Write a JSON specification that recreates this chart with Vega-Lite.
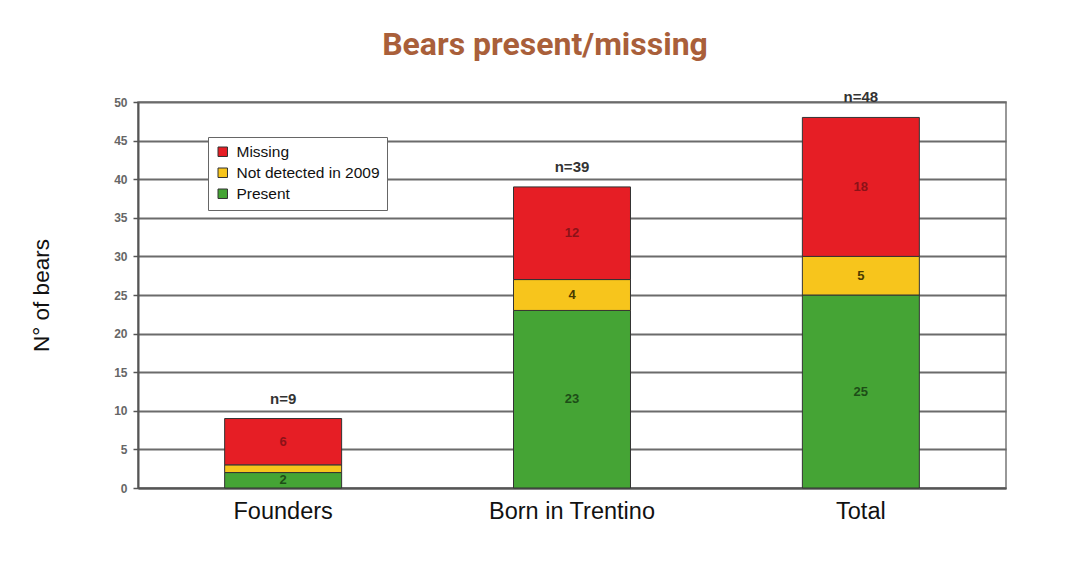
{
  "$schema": "https://vega.github.io/schema/vega-lite/v6.json",
  "width": 868,
  "height": 386,
  "autosize": {"type": "none"},
  "padding": {"left": 138, "top": 102, "right": 84, "bottom": 77},
  "background": "white",
  "title": {
    "text": "Bears present/missing",
    "font": "Roboto",
    "fontSize": 32,
    "fontWeight": "bold",
    "color": "#a95f3a",
    "anchor": "middle",
    "dx": -27,
    "offset": 28
  },
  "datasets": {
    "bears": [
      {"group": "Founders", "status": "Present", "value": 2, "order": 1},
      {"group": "Founders", "status": "Not detected in 2009", "value": 1, "order": 2},
      {"group": "Founders", "status": "Missing", "value": 6, "order": 3},
      {"group": "Born in Trentino", "status": "Present", "value": 23, "order": 1},
      {"group": "Born in Trentino", "status": "Not detected in 2009", "value": 4, "order": 2},
      {"group": "Born in Trentino", "status": "Missing", "value": 12, "order": 3},
      {"group": "Total", "status": "Present", "value": 25, "order": 1},
      {"group": "Total", "status": "Not detected in 2009", "value": 5, "order": 2},
      {"group": "Total", "status": "Missing", "value": 18, "order": 3}
    ],
    "totals": [
      {"group": "Founders", "total": 9, "label": "n=9"},
      {"group": "Born in Trentino", "total": 39, "label": "n=39"},
      {"group": "Total", "total": 48, "label": "n=48"}
    ]
  },
  "config": {
    "view": {"stroke": "#777", "strokeWidth": 1.5},
    "font": "Liberation Sans"
  },
  "encoding": {
    "x": {
      "field": "group",
      "type": "nominal",
      "sort": ["Founders", "Born in Trentino", "Total"],
      "scale": {"paddingInner": 0.595, "paddingOuter": 0.3},
      "axis": {
        "title": null,
        "labelAngle": 0,
        "labelFont": "Liberation Sans",
        "labelFontSize": 23.5,
        "labelColor": "#111",
        "labelPadding": 11,
        "ticks": false,
        "domainColor": "#555",
        "domainWidth": 2
      }
    }
  },
  "layer": [
    {
      "data": {"name": "bears"},
      "transform": [
        {"stack": "value", "groupby": ["group"], "sort": [{"field": "order"}], "as": ["v0", "v1"]}
      ],
      "mark": {"type": "bar", "stroke": "#333", "strokeWidth": 1},
      "encoding": {
        "y": {
          "field": "v1",
          "type": "quantitative",
          "scale": {"domain": [0, 50], "nice": false},
          "axis": {
            "title": "N° of bears",
            "titleFont": "Liberation Sans",
            "titleFontSize": 22.5,
            "titleFontWeight": "normal",
            "titleColor": "#111",
            "titlePadding": 60,
            "tickCount": 10,
            "labelOverlap": false,
            "grid": true,
            "labelFont": "Liberation Sans",
            "labelFontSize": 12,
            "labelFontWeight": "bold",
            "labelColor": "#666",
            "labelPadding": 6,
            "tickSize": 5,
            "tickColor": "#555",
            "tickWidth": 1.5,
            "gridColor": "#6b6b6b",
            "gridWidth": 2,
            "domainColor": "#555",
            "domainWidth": 2
          }
        },
        "y2": {"field": "v0"},
        "color": {
          "field": "status",
          "type": "nominal",
          "scale": {
            "domain": ["Missing", "Not detected in 2009", "Present"],
            "range": ["#e61e25", "#f7c51c", "#45a435"]
          },
          "legend": {
            "title": null,
            "orient": "none",
            "legendX": 70,
            "legendY": 35,
            "fillColor": "white",
            "strokeColor": "#666",
            "padding": 7,
            "symbolType": "square",
            "symbolSize": 90,
            "symbolStrokeColor": "#333",
            "symbolStrokeWidth": 1,
            "symbolOpacity": 1,
            "labelFont": "Liberation Sans",
            "labelFontSize": 15.5,
            "labelColor": "#111",
            "rowPadding": 4,
            "labelOffset": 6
          }
        }
      }
    },
    {
      "data": {"name": "bears"},
      "transform": [
        {"stack": "value", "groupby": ["group"], "sort": [{"field": "order"}], "as": ["v0", "v1"]},
        {"filter": "datum.value >= 2"},
        {"fold": ["v0", "v1"], "as": ["edge", "pos"]},
        {"aggregate": [{"op": "mean", "field": "pos", "as": "mid"}], "groupby": ["group", "status", "value"]}
      ],
      "mark": {"type": "text", "fontSize": 13, "fontWeight": "bold", "baseline": "middle"},
      "encoding": {
        "y": {"field": "mid", "type": "quantitative"},
        "text": {"field": "value", "type": "quantitative"},
        "color": {
          "field": "status",
          "type": "nominal",
          "scale": {
            "domain": ["Missing", "Not detected in 2009", "Present"],
            "range": ["#8c1218", "#4a3a00", "#1d4d17"]
          },
          "legend": null
        }
      }
    },
    {
      "data": {"name": "totals"},
      "mark": {"type": "text", "fontSize": 15, "fontWeight": "bold", "color": "#333", "baseline": "middle", "dy": -20},
      "encoding": {
        "y": {"field": "total", "type": "quantitative"},
        "text": {"field": "label", "type": "nominal"}
      }
    }
  ],
  "resolve": {"scale": {"color": "independent"}}
}
